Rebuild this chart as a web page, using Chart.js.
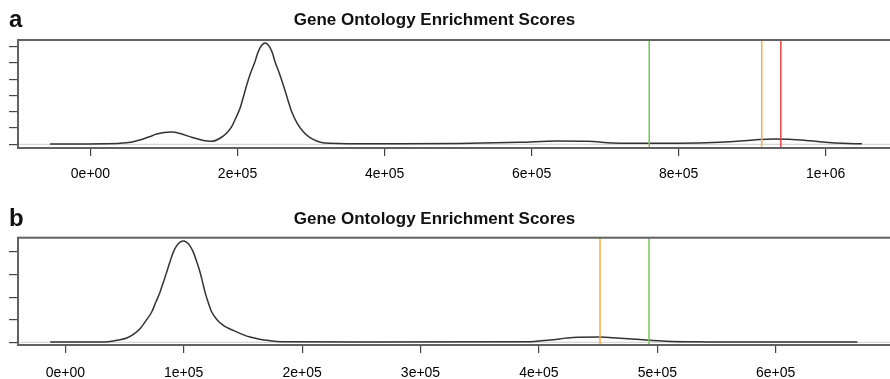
<!DOCTYPE html>
<html>
<head>
<meta charset="utf-8">
<script src="https://cdn.jsdelivr.net/npm/chart.js@4/dist/chart.umd.min.js"></script>
<style>
  html, body { margin: 0; padding: 0; background: #ffffff; overflow: hidden; width: 890px; height: 379px; }
  canvas { position: absolute; left: -31px; }
  #chartA { top: 0px; }
  #chartB { top: 190px; }
</style>
</head>
<body>
<canvas id="chartA" width="931" height="190"></canvas>
<canvas id="chartB" width="931" height="189"></canvas>
<script>
// ---------- data: panel a ----------
const titleText = 'Gene Ontology Enrichment Scores';
const panelLetters = ['a', 'b'];

const xTicksA = [0, 200000, 400000, 600000, 800000, 1000000];
const xTickLabelsA = ['0e+00', '2e+05', '4e+05', '6e+05', '8e+05', '1e+06'];
const yTicksA = [0, 1, 2, 3, 4, 5, 6];
const xRangeA = [-98600, 1094300];
const yRangeA = [-0.227, 6.40];
const scoresA = [-55000, -15000, 20000, 40000, 55000, 67000, 80000, 90000, 100000, 110000, 122000, 135000, 150000, 164800,
  176100, 185000, 192100, 197500, 203400, 208000, 212500, 218000, 223700, 227500, 231000, 234500, 237500, 240500, 244000,
  247500, 251000, 256500, 262200, 268000, 273700, 281000, 289500, 298000, 307700, 316000, 325800,
  350000, 420000, 500000, 584300, 634500, 675300, 720200, 800000, 856200, 890000, 910600, 930000, 950000, 978600,
  1000000, 1023500, 1049400];
const densityA = [0.02, 0.02, 0.03, 0.06, 0.13, 0.26, 0.46, 0.63, 0.72, 0.75, 0.66, 0.47, 0.28, 0.18,
  0.37, 0.68, 1.08, 1.60, 2.21, 2.92, 3.64, 4.40, 5.07, 5.60, 5.95, 6.15, 6.22, 6.15, 5.95,
  5.60, 5.07, 4.40, 3.64, 2.80, 2.00, 1.30, 0.77, 0.42, 0.20, 0.10, 0.06,
  0.03, 0.03, 0.05, 0.12, 0.20, 0.18, 0.07, 0.06, 0.12, 0.22, 0.30, 0.32, 0.31, 0.22,
  0.13, 0.06, 0.03];
const thresholdsA = [760000, 913000, 939000];
const thresholdColorsA = ['#72c957', '#ffab3a', '#e8423f'];

// ---------- data: panel b ----------
const xTicksB = [0, 100000, 200000, 300000, 400000, 500000, 600000];
const xTickLabelsB = ['0e+00', '1e+05', '2e+05', '3e+05', '4e+05', '5e+05', '6e+05'];
const yTicksB = [0, 1, 2, 3, 4];
const xRangeB = [-39950, 700760];
const yRangeB = [-0.12, 4.63];
const scoresB = [-12700, 30000, 37750, 45000, 51860, 57500, 63090, 68000, 72970, 76500, 79980, 82800, 85640, 88500, 91220,
  94000, 97000, 99660, 102300, 105300, 108110, 110900, 113770, 116000, 117990, 120800, 123650, 128500, 133450, 139000,
  144760, 150000, 155990, 163000, 170100, 178550, 190000, 250000, 390000, 409400, 428800, 451600,
  462600, 485400, 507900, 530200, 561000, 669000];
const densityB = [0.01, 0.01, 0.04, 0.10, 0.19, 0.35, 0.60, 0.95, 1.34, 1.78, 2.22, 2.65, 3.11, 3.58, 3.99,
  4.27, 4.43, 4.48, 4.43, 4.27, 3.99, 3.58, 3.11, 2.65, 2.22, 1.75, 1.34, 0.98, 0.75, 0.59,
  0.46, 0.34, 0.23, 0.15, 0.09, 0.04, 0.02, 0.01, 0.02, 0.10, 0.21, 0.23,
  0.20, 0.12, 0.05, 0.02, 0.01, 0.01];
const thresholdsB = [451600, 493000];
const thresholdColorsB = ['#ffab3a', '#72c957'];

// ---------- helpers ----------
const framePlugin = {
  id: 'frame',
  afterDatasetsDraw(chart) {
    const a = chart.chartArea, ctx = chart.ctx;
    ctx.save();
    ctx.strokeStyle = '#626262';
    ctx.lineWidth = 2;
    ctx.strokeRect(a.left, a.top, a.right - a.left, a.bottom - a.top);
    ctx.restore();
  }
};
const letterPlugin = {
  id: 'letter',
  afterDraw(chart, args, opts) {
    const ctx = chart.ctx;
    ctx.save();
    ctx.fillStyle = '#111';
    ctx.font = 'bold 24px "Liberation Sans", Arial, sans-serif';
    ctx.textBaseline = 'alphabetic';
    ctx.textAlign = 'left';
    ctx.fillText(opts.text, opts.x, opts.y);
    ctx.restore();
  }
};

function makePanel(id, p) {
  const datasets = [];
  p.thresholds.forEach((t, i) => {
    datasets.push({
      data: [{x: t, y: p.yRange[0]}, {x: t, y: p.yRange[1]}],
      borderColor: p.colors[i], borderWidth: 1.5, pointRadius: 0, order: 0
    });
  });
  datasets.push({
    data: p.scores.map((s, i) => ({x: s, y: p.density[i]})),
    borderColor: '#333333', borderWidth: 1.5, pointRadius: 0,
    cubicInterpolationMode: 'monotone', order: 1
  });
  datasets.push({
    data: [{x: p.xRange[0], y: 0}, {x: p.xRange[1], y: 0}],
    borderColor: '#cccccc', borderWidth: 1, pointRadius: 0, order: 2
  });
  return new Chart(document.getElementById(id), {
    type: 'line',
    data: { datasets },
    plugins: [framePlugin, letterPlugin],
    options: {
      responsive: false, animation: false, devicePixelRatio: 1,
      layout: { padding: { left: 5, right: 5, top: 0, bottom: 0 } },
      plugins: {
        legend: { display: false }, tooltip: { enabled: false },
        title: {
          display: true, text: titleText, color: '#111',
          font: { family: '"Liberation Sans", Arial, sans-serif', size: 17, weight: 'bold', lineHeight: 1.2 },
          padding: { top: p.titlePad[0], bottom: p.titlePad[1] }
        },
        letter: { text: p.letter, x: 40, y: p.letterY }
      },
      scales: {
        x: {
          type: 'linear', min: p.xRange[0], max: p.xRange[1],
          afterBuildTicks: s => { s.ticks = p.xTicks.map(v => ({value: v})); },
          afterFit: s => { s.height = p.xAxisH; },
          ticks: {
            callback: (v, i) => p.xTickLabels[i],
            color: '#000', padding: p.tickPad, maxRotation: 0, autoSkip: false,
            font: { family: '"Liberation Sans", Arial, sans-serif', size: 14, lineHeight: 1.2 }
          },
          grid: { drawOnChartArea: false, drawTicks: true, tickLength: 8, color: '#444', lineWidth: 1.2 },
          border: { display: false }
        },
        y: {
          type: 'linear', min: p.yRange[0], max: p.yRange[1],
          afterBuildTicks: s => { s.ticks = p.yTicks.map(v => ({value: v})); },
          afterFit: s => { s.width = 44; },
          ticks: { callback: () => '', padding: 0 },
          grid: { drawOnChartArea: false, drawTicks: true, tickLength: 9, color: '#444', lineWidth: 1.2 },
          border: { display: false }
        }
      }
    }
  });
}

makePanel('chartA', {
  letter: panelLetters[0], letterY: 27, titlePad: [9.8, 9.8], xAxisH: 42, tickPad: 10,
  xRange: xRangeA, yRange: yRangeA, xTicks: xTicksA, xTickLabels: xTickLabelsA, yTicks: yTicksA,
  scores: scoresA, density: densityA, thresholds: thresholdsA, colors: thresholdColorsA
});
makePanel('chartB', {
  letter: panelLetters[1], letterY: 36, titlePad: [18.8, 8.5], xAxisH: 34, tickPad: 12,
  xRange: xRangeB, yRange: yRangeB, xTicks: xTicksB, xTickLabels: xTickLabelsB, yTicks: yTicksB,
  scores: scoresB, density: densityB, thresholds: thresholdsB, colors: thresholdColorsB
});
</script>
</body>
</html>
